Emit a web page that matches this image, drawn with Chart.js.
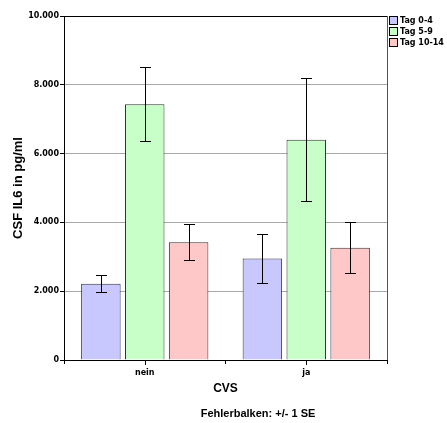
<!DOCTYPE html>
<html>
<head>
<meta charset="utf-8">
<script src="https://cdn.jsdelivr.net/npm/chart.js@4"></script>
<style>
html, body { margin: 0; padding: 0; background: #fff; }
</style>
</head>
<body>
<canvas id="chart" width="447" height="423"></canvas>
<script>
'use strict';

// Data.
const categories = ['nein', 'ja'];
const seriesNames = ['Tag 0-4', 'Tag 5-9', 'Tag 10-14'];
const tag04 = [2220, 2950];
const tag59 = [7435, 6405];
const tag1014 = [3420, 3265];
const tag04SE = [250, 725];
const tag59SE = [1075, 1790];
const tag1014SE = [520, 745];
const yMax = 10000;
const yStep = 2000;
const footnote = 'Fehlerbalken: +/- 1 SE';

const fills = ['#c8c8ff', '#c8ffc8', '#ffc8c8'];
const small = { family: '"DejaVu Sans", sans-serif', size: 8, weight: 'bold' };
const big = 'bold 11px "Liberation Sans", Arial, sans-serif';

function fmt(v) {
    return String(v).replace(/\B(?=(\d{3})+(?!\d))/g, '.');
}

// Error bars (+/- 1 SE), frame, centre ticks, legend and footnote.
const extras = {
    id: 'extras',
    afterDatasetsDraw(chart) {
        const ctx = chart.ctx;
        const y = chart.scales.y;
        ctx.save();
        ctx.strokeStyle = '#000';
        ctx.lineWidth = 1;
        chart.data.datasets.forEach((ds, i) => {
            chart.getDatasetMeta(i).data.forEach((bar, j) => {
                const x = Math.round(bar.x) + 0.5;
                const hi = Math.round(y.getPixelForValue(ds.data[j] + ds.se[j])) + 0.5;
                const lo = Math.round(y.getPixelForValue(ds.data[j] - ds.se[j])) + 0.5;
                ctx.beginPath();
                ctx.moveTo(x, hi); ctx.lineTo(x, lo);
                ctx.moveTo(x - 5.5, hi); ctx.lineTo(x + 5.5, hi);
                ctx.moveTo(x - 5.5, lo); ctx.lineTo(x + 5.5, lo);
                ctx.stroke();
            });
        });
        ctx.restore();
    },
    afterDraw(chart) {
        const ctx = chart.ctx;
        const a = chart.chartArea;
        const xs = chart.scales.x;
        ctx.save();
        ctx.lineWidth = 1;
        // top and right frame
        ctx.strokeStyle = '#000';
        ctx.beginPath();
        ctx.moveTo(a.left, Math.round(a.top) + 0.5);
        ctx.lineTo(a.right, Math.round(a.top) + 0.5);
        ctx.stroke();
        ctx.strokeStyle = '#555';
        ctx.beginPath();
        ctx.moveTo(Math.round(a.right) + 0.5, a.top);
        ctx.lineTo(Math.round(a.right) + 0.5, a.bottom);
        ctx.stroke();
        // ticks at the category centres
        ctx.strokeStyle = '#000';
        categories.forEach((c, j) => {
            const x = Math.round(xs.getPixelForValue(j)) + 0.5;
            ctx.beginPath();
            ctx.moveTo(x, a.bottom);
            ctx.lineTo(x, a.bottom + 5);
            ctx.stroke();
        });
        // legend
        ctx.font = 'bold 8px "DejaVu Sans", sans-serif';
        ctx.textBaseline = 'middle';
        ctx.textAlign = 'left';
        chart.data.datasets.forEach((ds, i) => {
            const top = 16 + i * 11;
            ctx.fillStyle = ds.backgroundColor;
            ctx.fillRect(389.5, top + 0.5, 8, 8);
            ctx.strokeStyle = '#000';
            ctx.strokeRect(389.5, top + 0.5, 8, 8);
            ctx.fillStyle = '#000';
            ctx.fillText(ds.label, 400, top + 5);
        });
        // footnote
        ctx.font = big;
        ctx.textAlign = 'center';
        ctx.fillText(footnote, 258, 414);
        ctx.restore();
    }
};

const series = [tag04, tag59, tag1014];
const errors = [tag04SE, tag59SE, tag1014SE];

new Chart(document.getElementById('chart'), {
    type: 'bar',
    data: {
        labels: categories,
        datasets: seriesNames.map((name, i) => ({
            label: name,
            data: series[i],
            se: errors[i],
            backgroundColor: fills[i],
            borderColor: '#333',
            borderWidth: 1,
            borderSkipped: 'bottom',
            categoryPercentage: 0.815,
            barPercentage: 0.9,
        })),
    },
    options: {
        responsive: false,
        animation: false,
        layout: { padding: { left: 0, top: 16, right: 60, bottom: 23 } },
        plugins: {
            legend: { display: false },
            tooltip: { enabled: false },
        },
        scales: {
            x: {
                afterFit(scale) { scale.height = 40; },
                grid: { drawOnChartArea: false, offset: true, tickLength: 4, tickColor: '#000' },
                border: { color: '#000', width: 1 },
                ticks: { color: '#000', font: small, padding: 4 },
                title: {
                    display: true,
                    text: 'CVS',
                    color: '#000',
                    font: { family: '"Liberation Sans", Arial, sans-serif', size: 12, weight: 'bold' },
                    padding: { top: 0, bottom: 4 },
                },
            },
            y: {
                min: 0,
                max: yMax,
                afterFit(scale) { scale.width = 64; },
                grid: {
                    color: (c) => (c.tick && (c.tick.value === 0 || c.tick.value === yMax)) ? 'rgba(0,0,0,0)' : '#a8a8a8',
                    tickLength: 4,
                    tickColor: '#000',
                },
                border: { color: '#000', width: 1 },
                ticks: {
                    stepSize: yStep,
                    color: '#000',
                    font: small,
                    padding: 1,
                    callback: (v) => fmt(v),
                },
                title: {
                    display: true,
                    text: 'CSF IL6 in pg/ml',
                    color: '#000',
                    font: { family: '"Liberation Sans", Arial, sans-serif', size: 13, weight: 'bold' },
                    padding: { top: 11, bottom: 0 },
                },
            },
        },
    },
    plugins: [extras],
});
</script>
</body>
</html>
